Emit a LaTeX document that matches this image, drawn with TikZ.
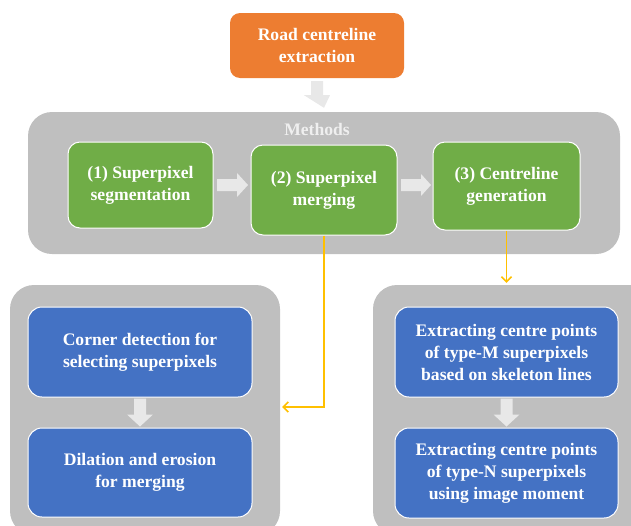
\documentclass[tikz,border=0pt]{standalone}
\usepackage{fontspec}
\setmainfont{Liberation Serif}
\usetikzlibrary{calc,arrows.meta}
\definecolor{contgray}{HTML}{BFBFBF}
\definecolor{boxgreen}{HTML}{70AD47}
\definecolor{boxblue}{HTML}{4472C4}
\definecolor{boxorange}{HTML}{ED7D31}
\definecolor{linkgold}{HTML}{FFC000}
\definecolor{arrowgray}{HTML}{E8E8E8}
\definecolor{labelgray}{HTML}{EFEFEF}
\tikzset{
  txt/.style={font=\fontsize{17.6}{22}\selectfont\bfseries, text=white, align=center, inner sep=0pt},
  container/.style={fill=contgray, rounded corners=24pt, inner sep=0pt},
  greenbox/.style={txt, fill=boxgreen, draw=white, line width=1pt, rounded corners=12pt},
  bluebox/.style={txt, fill=boxblue, draw=white, line width=1pt, rounded corners=14pt},
  orangebox/.style={txt, fill=boxorange, rounded corners=10pt},
  blockarrow/.style={fill=arrowgray, draw=none},
  link/.style={draw=linkgold, line width=1.6pt, -{Straight Barb[length=5pt,width=10pt,line width=1.6pt]}},
}
\begin{document}
\begin{tikzpicture}[x=1pt,y=-1pt]
\useasboundingbox (0,0) rectangle (631,525);
\clip (0,0) rectangle (631,525);
% containers
\node[container, minimum width=592pt, minimum height=142pt] (methods) at (324,183) {};
\node[container, minimum width=270pt, minimum height=250pt] (leftc) at (145,410) {};
\node[container, minimum width=280pt, minimum height=250pt] (rightc) at (513,410) {};
\node[font=\fontsize{17.6}{22}\selectfont\bfseries, text=labelgray, inner sep=0pt] (mlabel) at (317,129) {Methods};
% top box
\node[orangebox, minimum width=174pt, minimum height=65pt] (road) at (317,45.5) {Road centreline\\extraction};
% green boxes
\node[greenbox, minimum width=145pt, minimum height=86pt] (g1) at (140.5,185) {(1) Superpixel\\segmentation};
\node[greenbox, minimum width=146pt, minimum height=90pt] (g2) at (324,190) {(2) Superpixel\\merging};
\node[greenbox, minimum width=147pt, minimum height=88pt] (g3) at (506.5,186) {(3) Centreline\\generation};
% blue boxes
\node[bluebox, minimum width=224pt, minimum height=90pt] (b1) at (140,352) {Corner detection for\\selecting superpixels};
\node[bluebox, minimum width=224pt, minimum height=89pt] (b2) at (140,472.5) {Dilation and erosion\\for merging};
\node[bluebox, minimum width=223pt, minimum height=90pt] (b3) at (506.5,352) {Extracting centre points\\of type-M superpixels\\based on skeleton lines};
\node[bluebox, minimum width=223pt, minimum height=90pt] (b4) at (506.5,473) {Extracting centre points\\of type-N superpixels\\using image moment};
% gray block arrows
\fill[blockarrow] ($(road.south)+(-6,3)$) -- ++(12,0) -- ++(0,14) -- ++(7,0) -- ($(methods.north)+(0,-4)$) -- ($(road.south)+(-13,17)$) -- ++(7,0) -- cycle;
\fill[blockarrow] (217,179) -- (237,179) -- (237,173) -- (248,185) -- (237,197) -- (237,191) -- (217,191) -- cycle;
\fill[blockarrow] (401,179) -- (421,179) -- (421,174) -- (431,185) -- (421,196) -- (421,191) -- (401,191) -- cycle;
\fill[blockarrow] ($(b1.south)+(-6,1)$) -- ++(12,0) -- ++(0,16) -- ++(7,0) -- ($(b2.north)+(0,-1)$) -- ($(b1.south)+(-13,17)$) -- ++(7,0) -- cycle;
\fill[blockarrow] ($(b3.south)+(-6,1)$) -- ++(12,0) -- ++(0,16) -- ++(7,0) -- ($(b4.north)+(0,-1)$) -- ($(b3.south)+(-13,17)$) -- ++(7,0) -- cycle;
% gold links
\draw[link] (g2.south) -- (g2.south |- 0,407) -- ($(leftc.east |- 0,407)+(2,0)$);
\draw[link] (g3.south) -- ($(g3.south |- rightc.north)+(0,-2)$);
\end{tikzpicture}
\end{document}
